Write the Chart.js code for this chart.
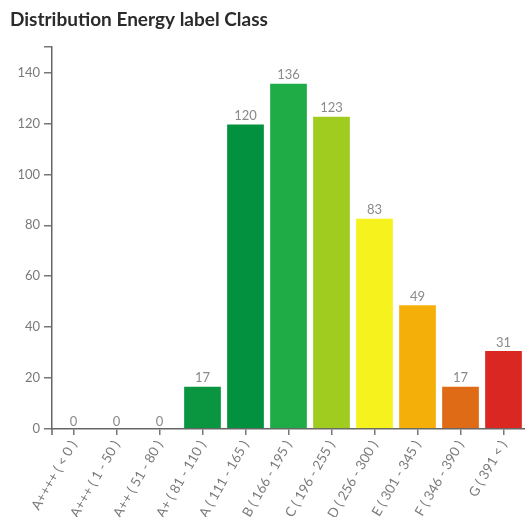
<!DOCTYPE html>
<html>
<head>
<meta charset="utf-8">
<script src="https://cdn.jsdelivr.net/npm/chart.js@4/dist/chart.umd.min.js"></script>
<style>
  html, body { margin: 0; padding: 0; background: #fff; }
  #wrap { width: 525px; height: 517px; position: relative; }
</style>
</head>
<body>
<div id="wrap"><canvas id="chart"></canvas></div>
<script>
// Energy label classes and how many buildings fall in each
const labelClasses = [
  'A++++ ( < 0 )', 'A+++ ( 1 - 50 )', 'A++ ( 51 - 80 )', 'A+ ( 81 - 110 )',
  'A ( 111 - 165 )', 'B ( 166 - 195 )', 'C ( 196 - 255 )', 'D ( 256 - 300 )',
  'E ( 301 - 345 )', 'F ( 346 - 390 )', 'G ( 391 < )'
];
const classCounts = [0, 0, 0, 17, 120, 136, 123, 83, 49, 17, 31];
const yTicks = [0, 20, 40, 60, 80, 100, 120, 140];

// Fill colours per class (green → red scale)
const classColors = [
  '#0a9640', '#0a9640', '#0a9640', '#0a9640', '#02913f', '#1fab46',
  '#a0cc1f', '#f6f21d', '#f4af09', '#df6b16', '#db2721'
];

const FONT = 'Lato, "Source Sans Pro", "Open Sans", sans-serif';

// Title in the top-left corner
const titlePlugin = {
  id: 'cornerTitle',
  afterDraw(chart) {
    const ctx = chart.ctx;
    ctx.save();
    ctx.font = 'bold 19px ' + FONT;
    ctx.fillStyle = '#2b2b2b';
    ctx.textBaseline = 'alphabetic';
    ctx.textAlign = 'left';
    ctx.fillText('Distribution Energy label Class', 10, 26);
    ctx.restore();
  }
};

// Count written above each bar
const valueLabels = {
  id: 'valueLabels',
  afterDatasetsDraw(chart) {
    const ctx = chart.ctx;
    const meta = chart.getDatasetMeta(0);
    ctx.save();
    ctx.font = '13px ' + FONT;
    ctx.fillStyle = '#8a8a8a';
    ctx.textAlign = 'center';
    ctx.textBaseline = 'bottom';
    meta.data.forEach((bar, i) => {
      ctx.fillText(String(classCounts[i]), bar.x, bar.y - 1);
    });
    ctx.restore();
  }
};

// Small outer tick where the x axis meets the y axis
const axisCorner = {
  id: 'axisCorner',
  afterDraw(chart) {
    const { left, bottom } = chart.chartArea;
    const ctx = chart.ctx;
    ctx.save();
    ctx.strokeStyle = '#666';
    ctx.lineWidth = 1.5;
    ctx.beginPath();
    ctx.moveTo(left, bottom);
    ctx.lineTo(left, bottom + 6);
    ctx.stroke();
    ctx.restore();
  }
};

new Chart(document.getElementById('chart'), {
  type: 'bar',
  data: {
    labels: labelClasses,
    datasets: [{
      data: classCounts,
      backgroundColor: classColors,
      borderColor: 'rgba(255,255,255,0.35)',
      borderWidth: 1,
      barPercentage: 0.9,
      categoryPercentage: 1.0
    }]
  },
  options: {
    responsive: true,
    maintainAspectRatio: false,
    animation: false,
    layout: { padding: { top: 47, left: 0, right: 0, bottom: 0 } },
    plugins: {
      legend: { display: false },
      tooltip: { enabled: false },
      title: { display: false }
    },
    scales: {
      x: {
        offset: true,
        grid: {
          display: true,
          drawOnChartArea: false,
          offset: false,
          tickLength: 6,
          color: '#777',
          lineWidth: 1.5
        },
        border: { display: true, color: '#666', width: 1.5 },
        ticks: {
          autoSkip: false,
          minRotation: 60,
          maxRotation: 60,
          color: '#7a7a7a',
          padding: 3,
          font: { family: FONT, size: 13.5 }
        },
        afterFit(scale) { scale.height = 88; }
      },
      y: {
        min: 0,
        max: 150,
        grid: {
          display: true,
          drawOnChartArea: false,
          tickLength: 8,
          color: '#777',
          lineWidth: 1.5
        },
        border: { display: true, color: '#666', width: 1.5 },
        afterBuildTicks(scale) {
          scale.ticks = yTicks.map(v => ({ value: v })).concat([{ value: 150 }]);
        },
        ticks: {
          color: '#7a7a7a',
          padding: 4,
          font: { family: FONT, size: 13 },
          callback: (v) => (yTicks.includes(v) ? String(v) : '')
        },
        afterFit(scale) { scale.width = 52; }
      }
    }
  },
  plugins: [titlePlugin, valueLabels, axisCorner]
});
</script>
</body>
</html>
